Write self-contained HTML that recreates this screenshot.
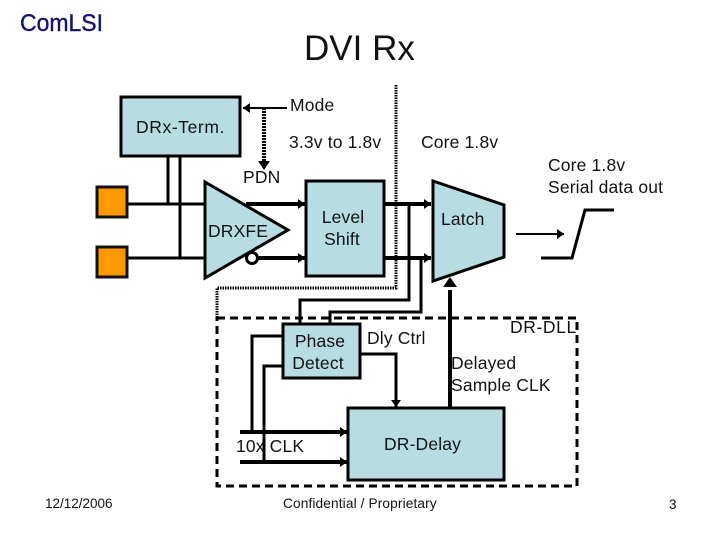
<!DOCTYPE html>
<html><head><meta charset="utf-8"><style>
html,body{margin:0;padding:0;background:#fff}
svg{display:block}
text{font-family:"Liberation Sans",Arial,sans-serif;fill:#111;font-size:17.5px;letter-spacing:.15px}
</style></head><body>
<svg width="720" height="540" viewBox="0 0 720 540" xmlns="http://www.w3.org/2000/svg">
<defs>
<marker id="a" markerUnits="userSpaceOnUse" markerWidth="8" markerHeight="10" refX="7" refY="5" orient="auto"><path d="M0 0L7 5L0 10Z" fill="#000"/></marker>
</defs>
<text x="20" y="31" style="font-size:24px;fill:#14146e;stroke:#14146e;stroke-width:.4px;letter-spacing:0" textLength="83" lengthAdjust="spacingAndGlyphs">ComLSI</text>
<text x="304" y="60" style="font-size:35px;letter-spacing:0">DVI Rx</text>

<g fill="none" stroke="#000" stroke-width="3">
<path d="M396 85V288H217V318" stroke-dasharray="1.5 1"/>
<path d="M264 108V163" stroke-dasharray="2 1" stroke-width="4"/>
<path d="M287 108H243" stroke-width="2" marker-end="url(#a)"/>
<path d="M127 204H204M127 258H204M168 157V204M180 157V258"/>
<path d="M246 204H305" stroke-width="4" marker-end="url(#a)"/>
<path d="M258 258H305" stroke-width="4" marker-end="url(#a)"/>
<path d="M384 204H431" stroke-width="4" marker-end="url(#a)"/>
<path d="M384 258H431" stroke-width="4" marker-end="url(#a)"/>
<path d="M409 204V300H300V324M421 258V312H330V324"/>
<path d="M450 408V290" stroke-width="4"/>
<path d="M282 336H252V432M282 366H264V462"/>
<path d="M240 432H347" stroke-width="4" marker-end="url(#a)"/>
<path d="M240 462H347" stroke-width="4" marker-end="url(#a)"/>
<path d="M360 354H396V407" marker-end="url(#a)"/>
<path d="M516 234H564" stroke-width="2" marker-end="url(#a)"/>
<path d="M541 258H572L585 210H614"/>
<rect x="217" y="318" width="360" height="168" stroke-dasharray="8 5"/>
</g>
<path d="M264 170L258 161H270Z" fill="#000"/>

<g fill="#b7dde3" stroke="#000" stroke-width="3">
<rect x="121" y="97" width="119" height="59"/>
<rect x="306" y="181" width="78" height="95"/>
<path d="M205 182L288 230L205 278Z"/>
<path d="M433 181L504 205V257L433 281Z"/>
<rect x="283" y="324" width="77" height="54"/>
<rect x="348" y="408" width="156" height="72"/>
<circle cx="252" cy="258" r="5.5" fill="#fff"/>
</g>
<path d="M450 277l-7 10h14z" fill="#000"/>
<rect x="97" y="187" width="30" height="30" fill="#f90" stroke="#111" stroke-width="3"/>
<rect x="97" y="247" width="30" height="30" fill="#f90" stroke="#111" stroke-width="3"/>

<text x="136" y="133" style="letter-spacing:.6px">DRx-Term.</text>
<text x="290" y="111">Mode</text>
<text x="289" y="148">3.3v to 1.8v</text>
<text x="421" y="148">Core 1.8v</text>
<text x="548" y="171">Core 1.8v</text>
<text x="548" y="193">Serial data out</text>
<text x="243" y="183">PDN</text>
<text x="208" y="237">DRXFE</text>
<text x="343" y="223" text-anchor="middle">Level</text>
<text x="342" y="245" text-anchor="middle">Shift</text>
<text x="441" y="225">Latch</text>
<text x="320" y="347" text-anchor="middle">Phase</text>
<text x="318" y="369" text-anchor="middle">Detect</text>
<text x="367" y="344">Dly Ctrl</text>
<text x="510" y="333" style="letter-spacing:.6px">DR-DLL</text>
<text x="451" y="369">Delayed</text>
<text x="451" y="391">Sample CLK</text>
<text x="236" y="452">10x CLK</text>
<text x="384" y="450">DR-Delay</text>
<text x="45" y="508" style="font-size:13.5px;letter-spacing:0">12/12/2006</text>
<text x="283" y="508" style="font-size:13.7px;letter-spacing:.12px">Confidential / Proprietary</text>
<text x="669" y="509" style="font-size:13.5px">3</text>
</svg>
</body></html>
